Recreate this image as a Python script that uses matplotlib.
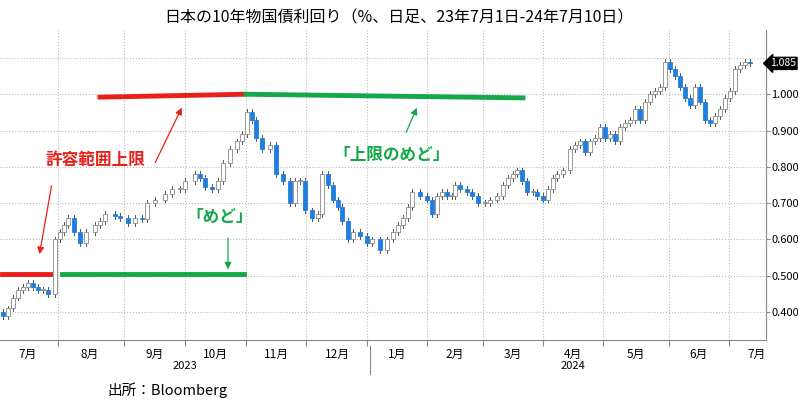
import matplotlib.pyplot as plt
from matplotlib.patches import Rectangle

plt.rcParams['font.family'] = ['Noto Sans CJK JP', 'DejaVu Sans']

# candle positions (chart x units, trading-time axis) and closing yields (%)
xs = [3, 8, 13, 18, 23, 28, 33, 38, 43, 48, 55, 60, 64, 68, 74, 80, 86, 95, 100, 105,
      115, 120, 128, 135, 142, 147, 155, 165, 172, 180, 185, 195, 200, 205, 212, 218,
      223, 230, 237, 242, 247, 252, 256, 262, 270, 276, 283, 290, 295, 300, 305, 312,
      318, 322, 328, 333, 338, 342, 348, 353, 360, 367, 372, 380, 387, 393, 398, 403,
      408, 412, 420, 427, 432, 437, 442, 447, 452, 455, 460, 467, 472, 478, 485, 490,
      497, 503, 508, 513, 517, 522, 527, 533, 537, 543, 548, 553, 557, 563, 570, 575,
      580, 585, 590, 595, 600, 605, 610, 615, 620, 625, 630, 635, 640, 645, 650, 655,
      660, 665, 670, 675, 680, 685, 690, 695, 700, 705, 710, 715, 720, 725, 730, 735,
      740, 745, 750]
closes = [0.39, 0.41, 0.44, 0.46, 0.47, 0.48, 0.47, 0.46, 0.46, 0.45, 0.60, 0.62, 0.64,
          0.66, 0.62, 0.59, 0.62, 0.64, 0.65, 0.67, 0.665, 0.66, 0.645, 0.66, 0.655, 0.70,
          0.71, 0.725, 0.74, 0.74, 0.76, 0.78, 0.77, 0.745, 0.74, 0.76, 0.81, 0.85, 0.87,
          0.89, 0.95, 0.93, 0.88, 0.85, 0.86, 0.78, 0.76, 0.70, 0.76, 0.76, 0.68, 0.66,
          0.67, 0.78, 0.75, 0.71, 0.69, 0.65, 0.60, 0.62, 0.61, 0.59, 0.60, 0.57, 0.60,
          0.62, 0.64, 0.66, 0.69, 0.73, 0.72, 0.71, 0.67, 0.72, 0.73, 0.72, 0.72, 0.75,
          0.74, 0.73, 0.72, 0.70, 0.70, 0.71, 0.72, 0.75, 0.77, 0.78, 0.79, 0.76, 0.73,
          0.73, 0.72, 0.71, 0.74, 0.77, 0.78, 0.79, 0.85, 0.86, 0.87, 0.84, 0.87, 0.88,
          0.91, 0.88, 0.89, 0.87, 0.91, 0.92, 0.93, 0.96, 0.93, 0.98, 1.00, 1.01, 1.02,
          1.09, 1.07, 1.05, 1.02, 0.99, 0.97, 1.02, 0.98, 0.93, 0.92, 0.94, 0.96, 0.99,
          1.01, 1.07, 1.08, 1.09, 1.085]
first_open = 0.40

month_labels = ['7月', '8月', '9月', '10月', '11月', '12月', '1月', '2月', '3月',
                '4月', '5月', '6月', '7月']
month_centers = [28, 90, 155, 215, 276, 337, 397, 455, 513, 573, 636, 699, 757]
month_bounds = [58, 124, 185, 246, 306, 367, 427, 483, 543, 603, 669, 729]
yticks = [0.4, 0.5, 0.6, 0.7, 0.8, 0.9, 1.0]
last_value = 1.085

fig = plt.figure(figsize=(7.98, 4.07), dpi=100)
ax = fig.add_axes([0, 1 - 340 / 407, 766 / 798, 310 / 407])
ax.set_xlim(0, 766)
ax.set_ylim(0.323, 1.177)

opens = [first_open] + closes[:-1]
for x, o, c in zip(xs, opens, closes):
    lo, hi = min(o, c), max(o, c)
    ax.plot([x, x], [lo - 0.008, hi + 0.008], color='#555555', lw=0.7, zorder=3)
    if c < o:
        ax.add_patch(Rectangle((x - 2, lo), 4, max(hi - lo, 0.003), facecolor='#1f7fe0',
                               edgecolor='#1f7fe0', lw=0.6, zorder=4))
    else:
        ax.add_patch(Rectangle((x - 2, lo), 4, max(hi - lo, 0.003), facecolor='white',
                               edgecolor='#888888', lw=0.6, zorder=4))

# grid
for b in month_bounds:
    ax.axvline(b, color='#bbbbbb', ls=':', lw=0.8, zorder=1)
for t in yticks + [1.1]:
    ax.axhline(t, color='#bbbbbb', ls=':', lw=0.8, zorder=1)

# support / resistance lines
red, green = '#e8201a', '#14a84a'
ax.plot([2, 50], [0.505, 0.505], color=red, lw=3.5, zorder=5)
ax.plot([62, 244], [0.505, 0.505], color=green, lw=3.5, zorder=5)
ax.plot([100, 244], [0.992, 1.0], color=red, lw=3.5, zorder=5)
ax.plot([246, 523], [1.0, 0.99], color=green, lw=3.5, zorder=5)

ax.text(95, 0.819, '許容範囲上限', color=red, fontsize=12, fontweight='bold',
        ha='center', va='center')
ax.annotate('', xy=(39, 0.552), xytext=(52, 0.755),
            arrowprops=dict(arrowstyle='-|>', color=red, lw=0.9, mutation_scale=10))
ax.annotate('', xy=(183, 0.97), xytext=(154, 0.805),
            arrowprops=dict(arrowstyle='-|>', color=red, lw=0.9, mutation_scale=10))
ax.text(220, 0.662, '「めど」', color=green, fontsize=12, fontweight='bold',
        ha='center', va='center')
ax.annotate('', xy=(228, 0.51), xytext=(228, 0.612),
            arrowprops=dict(arrowstyle='-|>', color=green, lw=0.9, mutation_scale=10))
ax.text(392, 0.832, '「上限のめど」', color=green, fontsize=12, fontweight='bold',
        ha='center', va='center')
ax.annotate('', xy=(418, 0.97), xytext=(405, 0.888),
            arrowprops=dict(arrowstyle='-|>', color=green, lw=0.9, mutation_scale=10))

# axes styling
for s in ['top', 'left']:
    ax.spines[s].set_visible(False)
ax.spines['right'].set_color('#888888')
ax.spines['bottom'].set_color('#888888')
ax.yaxis.tick_right()
ax.set_yticks(yticks)
ax.set_yticklabels(['%.3f' % t for t in yticks], fontsize=8)
ax.tick_params(axis='y', length=3, color='#888888', pad=1)
ax.set_xticks(month_bounds)
ax.set_xticklabels([])
ax.tick_params(axis='x', length=4, color='#888888')
for lab, c in zip(month_labels, month_centers):
    ax.text(c, -0.045, lab, transform=ax.get_xaxis_transform(), ha='center', va='center',
            fontsize=8.5)
ax.text(185, -0.085, '2023', transform=ax.get_xaxis_transform(), ha='center', va='center',
        fontsize=8)
ax.text(573, -0.085, '2024', transform=ax.get_xaxis_transform(), ha='center', va='center',
        fontsize=8)
ax.plot([370, 370], [-0.02, -0.11], transform=ax.get_xaxis_transform(), color='#888888',
        lw=0.8, clip_on=False)
ax.text(770, last_value, '%.3f' % last_value, ha='left', va='center', fontsize=7.5,
        color='white', bbox=dict(boxstyle='larrow,pad=0.1', fc='black', ec='black'))

fig.text(0.5, 1 - 18 / 407, '日本の10年物国債利回り（%、日足、23年7月1日-24年7月10日）',
         ha='center', va='center', fontsize=11.5)
fig.text(107 / 798, 1 - 390 / 407, '出所：Bloomberg', ha='left', va='center', fontsize=10.5)

fig.savefig('out.png', dpi=100)
